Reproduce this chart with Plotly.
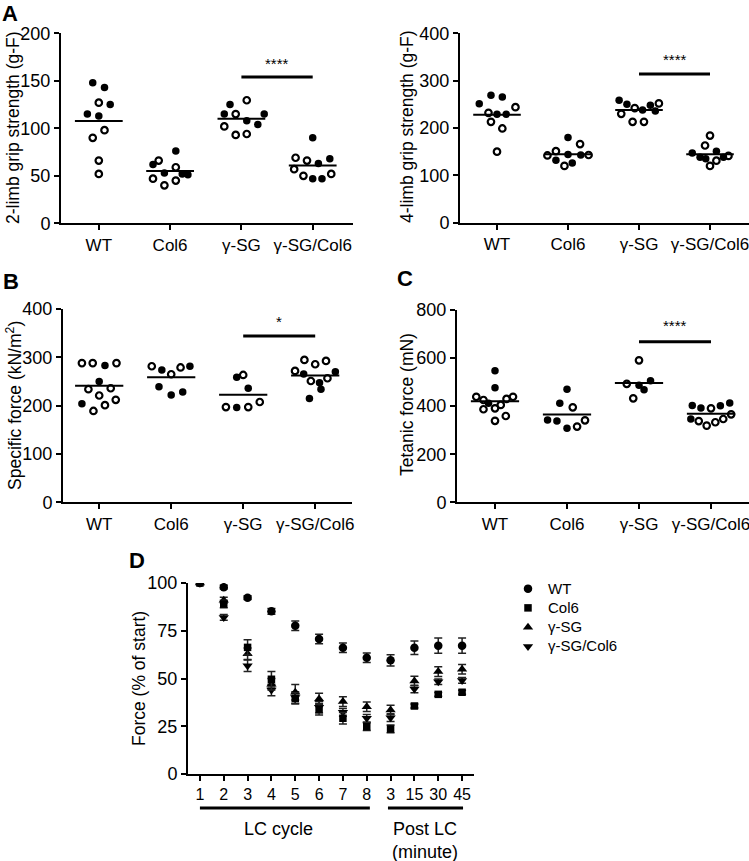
import numpy as np
import plotly.graph_objects as go

groups = ["WT", "Col6", "γ-SG", "γ-SG/Col6"]

# A left - 2-limb grip strength (g-F)
grip2_grp = [0] * 10 + [1] * 10 + [2] * 10 + [3] * 10
grip2_val = [148, 143, 127, 125, 115, 113, 98, 90, 66, 52,
             76, 66, 62, 59, 53, 51, 52, 47, 40, 45,
             129.5, 125, 115, 115, 115, 108, 104, 102, 93, 94,
             90, 69, 66, 63, 68, 57, 50, 47, 47, 52]
grip2_dx = [-0.085, 0.08, 0, 0.16, -0.16, 0, 0.08, -0.085, 0, 0,
            0.08, -0.16, -0.24, 0.08, -0.08, 0.25, 0.17, -0.24, -0.08, 0.08,
            0.075, -0.16, -0.24, -0.08, 0.32, 0.075, 0.23, -0.24, -0.08, 0.075,
            0, -0.24, -0.08, 0.08, 0.24, -0.26, -0.13, 0, 0.13, 0.26]
grip2_open = [0, 0, 1, 0, 0, 0, 1, 1, 1, 1,
              0, 1, 0, 1, 0, 0, 0, 1, 1, 1,
              1, 0, 0, 1, 0, 0, 0, 1, 1, 1,
              0, 1, 1, 0, 0, 1, 1, 0, 0, 1]

# A right - 4-limb grip strength (g-F)
grip4_grp = [0] * 10 + [1] * 10 + [2] * 10 + [3] * 10
grip4_val = [269, 265.5, 251, 244, 232, 229, 229, 213, 199, 150,
             142, 151, 132, 180, 144, 120, 126, 166, 143, 143,
             258.5, 250, 242, 238, 248, 252, 236, 230, 213, 213,
             184, 163, 147, 138, 151, 131, 120, 135, 138, 141]
grip4_dx = [-0.085, 0.075, -0.25, 0.26, -0.12, 0, 0.13, -0.085, 0.075, 0,
            -0.29, -0.17, -0.17, 0, 0, -0.05, 0.06, 0.17, 0.18, 0.29,
            -0.28, -0.17, -0.06, 0.05, 0.16, 0.28, 0.23, -0.25, -0.09, 0.07,
            0, -0.07, -0.25, -0.14, 0.09, 0.09, 0, -0.06, 0.19, 0.26]
grip4_open = [0, 0, 0, 1, 1, 0, 0, 1, 1, 1,
              1, 1, 0, 0, 0, 1, 0, 1, 0, 1,
              0, 0, 1, 0, 0, 1, 0, 1, 1, 1,
              1, 1, 0, 0, 0, 1, 1, 0, 0, 1]

# B - specific force (kN/m2)
spec_grp = [0] * 12 + [1] * 8 + [2] * 7 + [3] * 11
spec_val = [288, 288, 283, 288, 250, 234, 236, 221, 212, 204, 201, 189,
            281.5, 274, 265, 279, 281.5, 239, 222, 228,
            263.5, 259, 236, 197, 196, 197, 207.6,
            294.6, 285.7, 292.5, 271.8, 265.6, 270.4, 256.7, 251, 247.6, 234, 215]
spec_dx = [-0.24, -0.09, 0.08, 0.24, 0, -0.15, 0.16, 0, 0.23, -0.24, 0.08, -0.08,
           -0.27, -0.13, 0, 0.13, 0.26, -0.17, 0, 0.16,
           0, -0.09, 0.07, -0.24, -0.09, 0.07, 0.23,
           -0.15, 0, 0.15, -0.28, -0.16, 0.28, 0.17, -0.06, 0.06, 0.08, -0.08]
spec_open = [1, 1, 0, 1, 0, 1, 1, 1, 1, 0, 1, 1,
             1, 0, 1, 1, 0, 0, 0, 0,
             1, 0, 0, 1, 0, 1, 1,
             1, 1, 1, 1, 0, 0, 1, 1, 0, 0, 0]

# C - tetanic force (mN)
tet_grp = [0] * 12 + [1] * 8 + [2] * 6 + [3] * 11
tet_val = [547, 477, 439, 425.5, 439, 430, 412, 387, 391, 405, 339, 359,
           470, 412, 395, 342, 338, 308, 315, 341,
           590.6, 493, 486.7, 506, 468, 432.6,
           403, 392, 391, 402, 413, 346.5, 338, 319, 333, 346.5, 366]
tet_dx = [0, 0, -0.26, -0.16, 0.25, 0.16, -0.09, -0.16, 0, 0.08, 0, 0.15,
          0, -0.1, 0.08, -0.27, -0.14, 0, 0.14, 0.25,
          0, -0.17, 0, 0.16, 0.07, -0.08,
          -0.26, -0.14, 0, 0.13, 0.26, -0.28, -0.17, -0.06, 0.06, 0.17, 0.28]
tet_open = [0, 0, 1, 1, 1, 1, 0, 1, 1, 1, 1, 1,
            0, 0, 1, 0, 0, 0, 1, 1,
            1, 1, 0, 0, 0, 1,
            0, 0, 1, 0, 0, 0, 1, 1, 1, 1, 1]

sig_y = [154, 314, 344, 668]
sig_txt = ["****", "****", "*", "****"]
star_y = [168, 344, 375, 735]

# D - force during lengthening contractions
lc_ticks = ["1", "2", "3", "4", "5", "6", "7", "8", "3", "15", "30", "45"]
wt_force = [100, 97.8, 92.3, 85.2, 77.6, 70.7, 66.1, 60.9, 59.5, 66.1, 67.2, 67.2]
wt_err = [0, 1, 1, 1.5, 2.5, 2.5, 2.5, 2.5, 3, 3.5, 4, 4]
col6_force = [100, 89, 66.3, 49.6, 39.6, 33.9, 29.2, 24.8, 23.6, 35.6, 41.7, 42.8]
col6_err = [0, 2, 4, 4, 3, 3, 3, 2, 2, 1, 1, 1]
gsg_force = [100, 91, 63, 47, 42.8, 39.3, 37.9, 35.2, 33.5, 48.7, 53.6, 54.8]
gsg_err = [0, 1.5, 3, 3, 4, 3, 2.5, 2.5, 2.5, 2.5, 2.5, 2.5]
gsgcol6_force = [100, 82, 56.7, 44, 40, 35, 32.3, 29.2, 29.5, 44.5, 48.3, 49]
gsgcol6_err = [0, 1.5, 3, 3, 3, 3, 2, 2, 2, 2, 1.5, 1.5]

W, H = 749, 861
FONT = "Liberation Sans, Arial, sans-serif"


def px(x):
    return x / W


def py(y):
    return 1 - y / H


fig = go.Figure()


def add_dots(n, grp, val, dx, opn, sig, txt, sy):
    ax = "" if n == 1 else str(n)
    grp = np.array(grp)
    val = np.array(val, dtype=float)
    xs = grp + np.array(dx)
    opn = np.array(opn, dtype=bool)
    fig.add_trace(go.Scatter(x=xs[~opn], y=val[~opn], mode="markers", xaxis="x" + ax, yaxis="y" + ax,
                             marker=dict(symbol="circle", size=7.5, color="black"), showlegend=False))
    fig.add_trace(go.Scatter(x=xs[opn], y=val[opn], mode="markers", xaxis="x" + ax, yaxis="y" + ax,
                             marker=dict(symbol="circle-open", size=6.5, color="black", line=dict(width=2.2)),
                             showlegend=False))
    for g in range(4):
        m = val[grp == g].mean()
        fig.add_trace(go.Scatter(x=[g - 0.335, g + 0.335], y=[m, m], mode="lines", xaxis="x" + ax, yaxis="y" + ax,
                                 line=dict(color="black", width=2), showlegend=False))
    fig.add_trace(go.Scatter(x=[2, 3], y=[sig, sig], mode="lines", xaxis="x" + ax, yaxis="y" + ax,
                             line=dict(color="black", width=3), showlegend=False))
    fig.add_annotation(x=2.5, y=sy, xref="x" + ax, yref="y" + ax, text=txt, showarrow=False,
                       xanchor="center", yanchor="middle", font=dict(size=15, color="black", family=FONT))


add_dots(1, grip2_grp, grip2_val, grip2_dx, grip2_open, sig_y[0], sig_txt[0], star_y[0])
add_dots(2, grip4_grp, grip4_val, grip4_dx, grip4_open, sig_y[1], sig_txt[1], star_y[1])
add_dots(3, spec_grp, spec_val, spec_dx, spec_open, sig_y[2], sig_txt[2], star_y[2])
add_dots(4, tet_grp, tet_val, tet_dx, tet_open, sig_y[3], sig_txt[3], star_y[3])

xi = list(range(len(lc_ticks)))
series = [("γ-SG/Col6", gsgcol6_force, gsgcol6_err, "triangle-down", 9, 4),
          ("γ-SG", gsg_force, gsg_err, "triangle-up", 9, 3),
          ("WT", wt_force, wt_err, "circle", 8.5, 1),
          ("Col6", col6_force, col6_err, "square", 7.5, 2)]
for name, y, e, sym, sz, rank in series:
    # legend line height follows legend.font, the span keeps the visible text larger
    fig.add_trace(go.Scatter(x=xi, y=y, mode="markers", name='<span style="font-size:15px">%s</span>' % name,
                             xaxis="x5", yaxis="y5", legendrank=rank,
                             marker=dict(symbol=sym, size=sz, color="black"),
                             error_y=dict(type="data", array=e, color="#222", thickness=1.5, width=4)))

axis_common = dict(showline=True, linecolor="black", linewidth=2, ticks="outside", ticklen=5, tickwidth=2,
                   tickcolor="black", showgrid=False, zeroline=False, fixedrange=True, automargin=False,
                   ticklabeloverflow="allow", tickfont=dict(size=17, color="black", family=FONT))
yfont = dict(size=18, color="black", family=FONT)

# x-axis pixel extents and category centre / spacing for each scatter panel
panels = [(61, 353, 98.8, 71.3, 33.3, 223.3, [0, 50, 100, 150, 200], 200),
          (460, 749, 497, 71, 33.3, 222.7, [0, 100, 200, 300, 400], 400),
          (63, 352, 99.2, 72, 309, 502.3, [0, 100, 200, 300, 400], 400),
          (457, 749, 495, 72, 310, 502.3, [0, 200, 400, 600, 800], 800)]
lay = {}
for i, (x0, x1, c0, s, yt, yb, tv, ymax) in enumerate(panels):
    k = "" if i == 0 else str(i + 1)
    lay["xaxis" + k] = dict(axis_common, domain=[px(x0), px(x1)], range=[(x0 - c0) / s, (x1 - c0) / s],
                            tickvals=[0, 1, 2, 3], ticktext=groups, anchor="y" + k)
    lay["yaxis" + k] = dict(axis_common, domain=[py(yb), py(yt)], range=[0, ymax], tickvals=tv,
                            anchor="x" + k, tickfont=yfont)

lay["xaxis5"] = dict(axis_common, domain=[px(188), px(474)], range=[-0.5, 11.5], tickvals=xi,
                     ticktext=lc_ticks, anchor="y5")
lay["xaxis5"]["tickfont"] = dict(size=16, color="black", family=FONT)
lay["yaxis5"] = dict(axis_common, domain=[py(774), py(583)], range=[0, 100], tickvals=[0, 25, 50, 75, 100],
                     anchor="x5", tickfont=yfont)

fig.update_layout(**lay)

titles = [("2-limb grip strength (g-F)", 13, 128),
          ("4-limb grip strength (g-F)", 407, 127),
          ("Specific force (kN/m<sup>2</sup>)", 14, 406),
          ("Tetanic force (mN)", 407, 405),
          ("Force (% of start)", 139, 679)]
for t, x, y in titles:
    fig.add_annotation(x=px(x), y=py(y), xref="paper", yref="paper", text=t, textangle=-90, showarrow=False,
                       xanchor="center", yanchor="middle", font=dict(size=17.5, color="black", family=FONT))

for t, x, y in [("A", 10, 14), ("B", 10.5, 281.5), ("C", 405, 278), ("D", 136.5, 560)]:
    fig.add_annotation(x=px(x), y=py(y), xref="paper", yref="paper", text="<b>%s</b>" % t, showarrow=False,
                       xanchor="center", yanchor="middle", font=dict(size=22, color="black", family=FONT))

fig.add_annotation(x=px(278), y=py(829), xref="paper", yref="paper", text="LC cycle", showarrow=False,
                   xanchor="center", yanchor="middle", font=dict(size=18, color="black", family=FONT))
fig.add_annotation(x=px(425), y=py(840), xref="paper", yref="paper", text="Post LC<br>(minute)", showarrow=False,
                   xanchor="center", yanchor="middle", font=dict(size=18, color="black", family=FONT))
fig.add_shape(type="line", xref="x5", yref="paper", x0=0, x1=7.13, y0=py(808), y1=py(808),
              line=dict(color="black", width=3))
fig.add_shape(type="line", xref="x5", yref="paper", x0=7.89, x1=11.04, y0=py(808), y1=py(808),
              line=dict(color="black", width=3))

fig.update_layout(width=W, height=H, autosize=False,
                  margin=dict(l=0, r=0, t=0, b=0, autoexpand=False),
                  paper_bgcolor="white", plot_bgcolor="white",
                  font=dict(family=FONT, color="black"),
                  legend=dict(x=px(508), y=py(574), xanchor="left", yanchor="top", bgcolor="rgba(0,0,0,0)",
                              font=dict(size=12.5, color="black", family=FONT), tracegroupgap=0))

# the page body has a default 8px margin; drop it so the figure sits at the window corner
fig.write_html("out.html", config={"displayModeBar": False},
               post_script="document.body.style.margin='0px';")
